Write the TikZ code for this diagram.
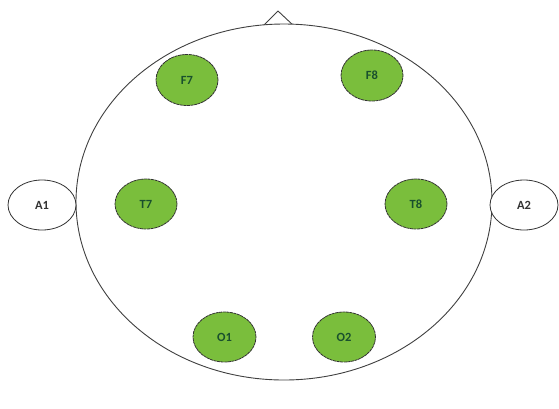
\documentclass[tikz,border=0pt]{standalone}
\usepackage{fontspec}
\setmainfont{Carlito}
\usetikzlibrary{shapes.geometric}
\definecolor{elgreen}{RGB}{122,190,60}
\definecolor{eltext}{RGB}{25,80,45}
\tikzset{
  electrode/.style={ellipse, draw=black!80, line width=0.8pt, dash pattern=on 3pt off 0.6pt, fill=elgreen, minimum width=62pt, minimum height=50pt, inner sep=0pt, font=\bfseries\fontsize{12.5}{14}\selectfont, text=eltext},
  ear/.style={ellipse, draw=black!80, line width=0.8pt, fill=white, minimum width=68pt, minimum height=50pt, inner sep=0pt, font=\bfseries\fontsize{12.5}{14}\selectfont, text=black!80},
  outline/.style={draw=black!75, line width=0.9pt}
}
\begin{document}
\begin{tikzpicture}[x=1pt,y=-1pt]
\useasboundingbox (0,0) rectangle (559,408);
% nose
\coordinate (nl) at (263,26);
\coordinate (nt) at (278,11);
\coordinate (nr) at (294,26);
\draw[outline, line join=round] (nl) -- (nt) -- (nr);
% head
\node[outline, ellipse, minimum width=416pt, minimum height=356pt, inner sep=0pt, fill=white] (head) at (284,202) {};
% ears
\node[ear] (A1) at (42,205) {A1};
\node[ear] (A2) at (524,205) {A2};
% electrodes
\node[electrode, minimum height=51pt] (F7) at (187,80) {F7};
\node[electrode, minimum height=51pt] (F8) at (372,75.5) {F8};
\node[electrode] (T7) at (146,204) {T7};
\node[electrode] (T8) at (416,204) {T8};
\node[electrode, minimum width=63pt] (O1) at (224.5,337) {O1};
\node[electrode, minimum width=63pt] (O2) at (344,337) {O2};
\end{tikzpicture}
\end{document}
